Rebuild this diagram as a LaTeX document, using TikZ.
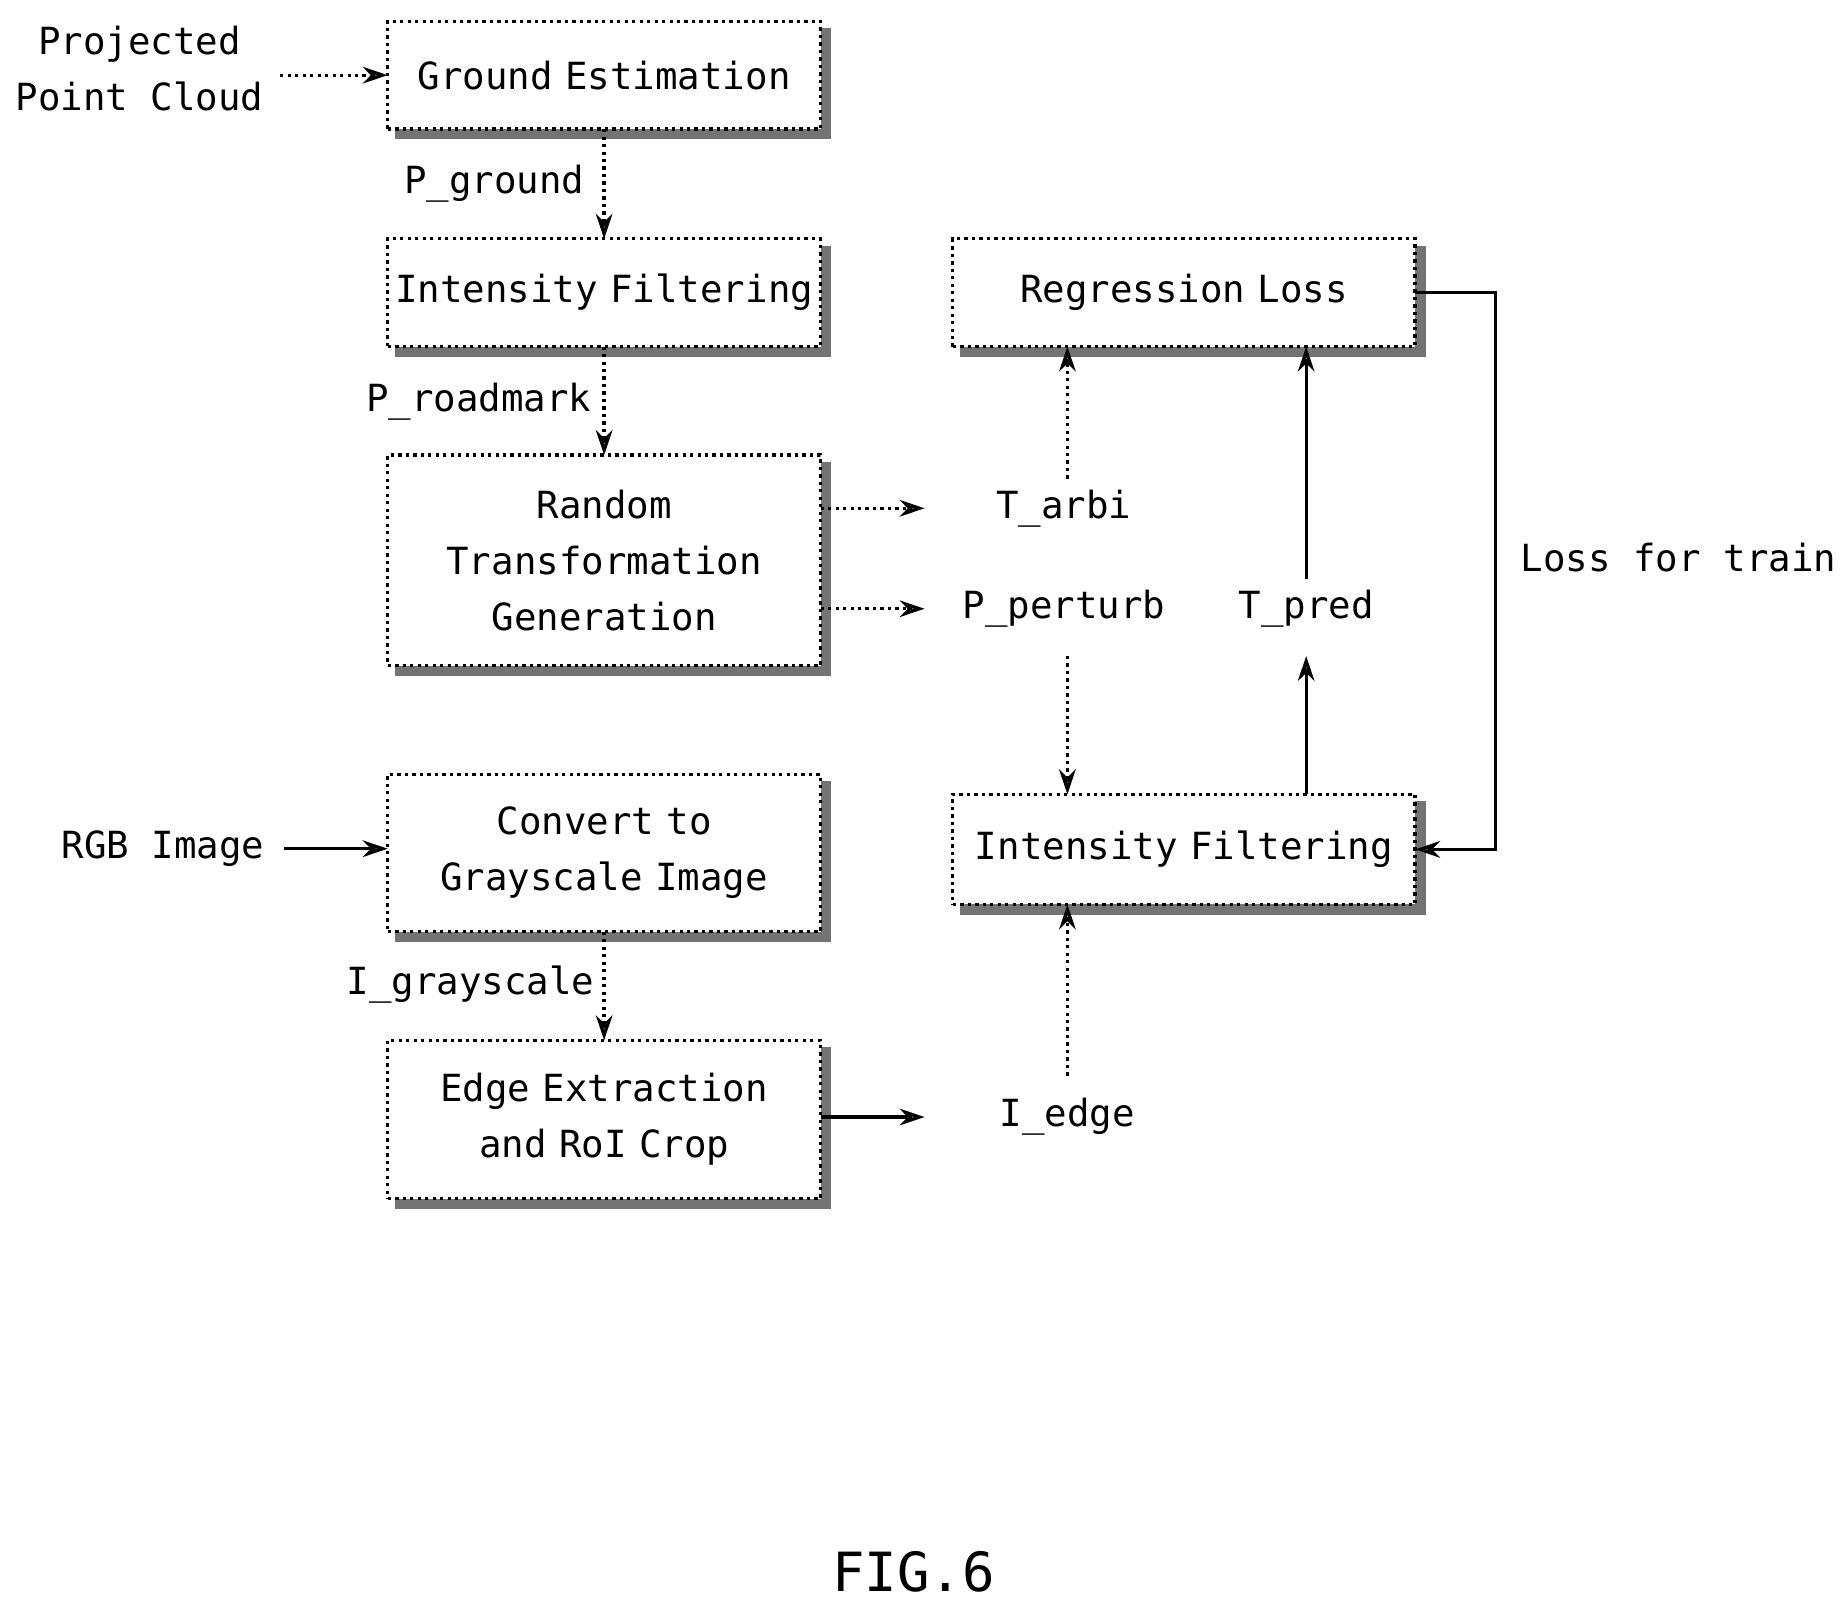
\documentclass[tikz,border=0pt]{standalone}
\usepackage{fontspec}
\setmainfont{DejaVu Sans Mono}
\usetikzlibrary{arrows.meta,positioning}
\begin{document}
\begin{tikzpicture}[x=0.01cm,y=-0.01cm,
  blk/.style={draw,thick,densely dotted,fill=white,align=center,font=\fontsize{9}{13.5}\selectfont,
    inner sep=0pt,outer sep=0pt},
  lbl/.style={align=center,font=\fontsize{9}{13.5}\selectfont,inner sep=1pt},
  dar/.style={densely dotted,thick,-{Stealth[open,length=6pt,width=4pt]}},
  sar/.style={thick,-{Stealth[open,length=6pt,width=4pt]}}]

\useasboundingbox (0,0) rectangle (1560,1361);

% boxes: corners and shadow
\newcommand{\blkbox}[6]{%
  \fill[black!55] (#2+6,#3+6) rectangle (#4+6,#5+6);
  \node[blk,text width=(#4-#2-10)*0.01cm,minimum width=(#4-#2)*0.01cm-0.8pt,
    minimum height=(#5-#3)*0.01cm-0.8pt,anchor=north west] (#1) at (#2,#3) {#6};}

\blkbox{ground}{328}{18}{697}{112}{Ground Estimation}
\blkbox{filt}{328}{202}{697}{296}{Intensity Filtering}
\blkbox{rtg}{328}{385}{697}{566}{Random\\Transformation\\Generation}
\blkbox{gray}{328}{655}{697}{791}{Convert to\\Grayscale Image}
\blkbox{edge}{328}{880}{697}{1017}{Edge Extraction\\and RoI Crop}
\blkbox{loss}{806}{202}{1200}{296}{Regression Loss}
\blkbox{filtb}{806}{672}{1200}{768}{Intensity Filtering}

% labels
\node[lbl] (pcl) at (118,58) {Projected\\Point Cloud};
\node[lbl] (pgr) at (418,155) {P\_ground};
\node[lbl] (prm) at (405,340) {P\_roadmark};
\node[lbl] (tarbi) at (900,430) {T\_arbi};
\node[lbl] (ppert) at (900,515) {P\_perturb};
\node[lbl] (tpred) at (1105,515) {T\_pred};
\node[lbl] (ltrain) at (1420,472) {Loss for train};
\node[lbl] (rgb) at (138,718) {RGB Image};
\node[lbl] (igray) at (398,833) {I\_grayscale};
\node[lbl] (iedge) at (903,945) {I\_edge};
\node[lbl,font=\fontsize{13}{15}\selectfont] (fig) at (773,1330) {FIG.6};

% connectors
\draw[dar] (pcl.east|-ground.west) ++(10,0) -- (ground.west);
\draw[dar] (ground.south) -- (filt.north);
\draw[dar] (filt.south) -- (rtg.north);
\draw[dar] (rtg.east|-tarbi) -- ++(88,0);
\draw[dar] (rtg.east|-ppert) -- ++(88,0);
\draw[dar] (tarbi.north) ++(3,-5) -- (loss.south-|903,0);
\draw[dar] (ppert.south) ++(3,20) -- (filtb.north-|903,0);
\draw[sar] (filtb.north-|1105,0) -- (1105,555);
\draw[sar] (tpred.north) ++(0,-5) -- (loss.south-|1105,0);
\draw[dar] (iedge.north) ++(0,-15) -- (filtb.south-|903,0);
\draw[sar] (loss.east) -- ++(68,0) |- (filtb.east);
\draw[sar] (rgb.east) ++(12,0) -- (gray.west|-rgb.east);
\draw[dar] (gray.south) -- (edge.north);
\draw[sar] (edge.east|-iedge) -- ++(88,0);
\end{tikzpicture}
\end{document}
